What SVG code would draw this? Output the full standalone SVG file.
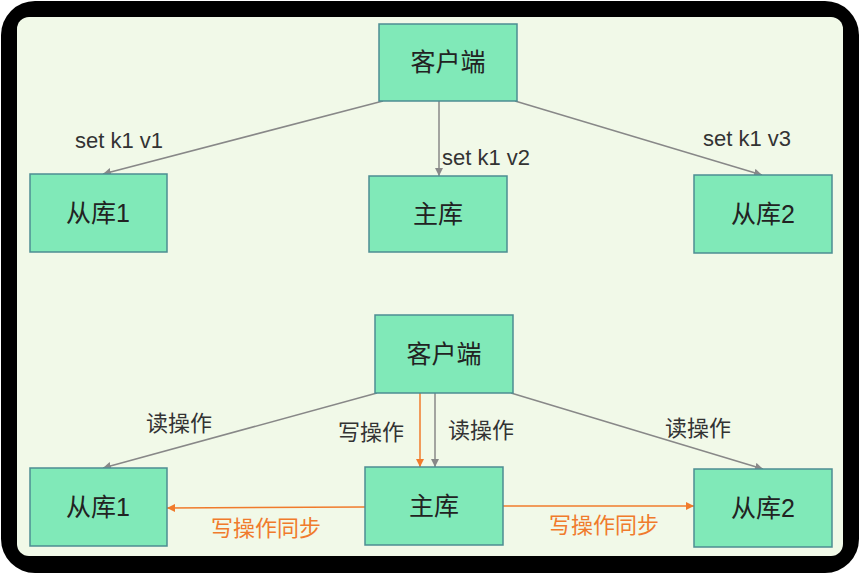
<svg xmlns="http://www.w3.org/2000/svg" width="860" height="574" viewBox="0 0 860 574">
<style>
.node rect{fill:#80e9b8;stroke:#4d8d92;stroke-width:1.5}
.node text{font-family:"Liberation Sans","Noto Sans CJK SC",sans-serif;font-size:25px;fill:#222;text-anchor:middle;dominant-baseline:central}
.lbl{font-family:"Liberation Sans","Noto Sans CJK SC",sans-serif;font-size:22px;fill:#333;dominant-baseline:central}
.lbl.o{fill:#f07b2c}
.g{stroke:#888;stroke-width:1.5;fill:none;marker-end:url(#ag)}
.o2{stroke:#f07b2c;stroke-width:1.5;fill:none;marker-end:url(#ao)}
</style>
<defs>
<marker id="ag" viewBox="0 0 10 10" refX="10" refY="5" markerWidth="8" markerHeight="8" markerUnits="userSpaceOnUse" orient="auto"><path d="M0,0 L10,5 L0,10 z" fill="#888"/></marker>
<marker id="ao" viewBox="0 0 10 10" refX="10" refY="5" markerWidth="8" markerHeight="8" markerUnits="userSpaceOnUse" orient="auto"><path d="M0,0 L10,5 L0,10 z" fill="#f07b2c"/></marker>
</defs>
<rect x="1" y="1" width="858" height="572" rx="34" fill="#000"/>
<rect x="17" y="17" width="826" height="539" rx="12" fill="#f1f9e8"/>
<g id="connectors">
<line class="g" x1="383" y1="101" x2="103" y2="174"/>
<line class="g" x1="439" y1="101" x2="439" y2="176"/>
<line class="g" x1="515" y1="101" x2="762" y2="175"/>
<line class="g" x1="377" y1="393" x2="103" y2="468"/>
<line class="o2" x1="420" y1="393" x2="420" y2="467"/>
<line class="g" x1="435" y1="393" x2="435" y2="467"/>
<line class="g" x1="511" y1="393" x2="763" y2="469"/>
<line class="o2" x1="365" y1="507" x2="167" y2="508"/>
<line class="o2" x1="503" y1="506" x2="694" y2="506"/>
<text class="lbl" x="75" y="140">set k1 v1</text>
<text class="lbl" x="442" y="157">set k1 v2</text>
<text class="lbl" x="703" y="138">set k1 v3</text>
<text class="lbl" x="146" y="423">读操作</text>
<text class="lbl" x="338" y="432">写操作</text>
<text class="lbl" x="448" y="430">读操作</text>
<text class="lbl" x="665" y="428">读操作</text>
<text class="lbl o" x="211" y="528">写操作同步</text>
<text class="lbl o" x="549" y="525">写操作同步</text>
</g>
<g id="client1" class="node"><rect x="379" y="24" width="138" height="77"/><text x="448" y="62">客户端</text></g>
<g id="slave1a" class="node"><rect x="30" y="174" width="137" height="78"/><text x="98" y="213">从库1</text></g>
<g id="master1" class="node"><rect x="369" y="176" width="138" height="76"/><text x="438" y="214">主库</text></g>
<g id="slave2a" class="node"><rect x="694" y="175" width="138" height="78"/><text x="763" y="214">从库2</text></g>
<g id="client2" class="node"><rect x="375" y="315" width="138" height="78"/><text x="444" y="354">客户端</text></g>
<g id="slave1b" class="node"><rect x="30" y="468" width="137" height="78"/><text x="98" y="507">从库1</text></g>
<g id="master2" class="node"><rect x="365" y="467" width="138" height="78"/><text x="434" y="506">主库</text></g>
<g id="slave2b" class="node"><rect x="694" y="469" width="138" height="78"/><text x="763" y="508">从库2</text></g>
</svg>
